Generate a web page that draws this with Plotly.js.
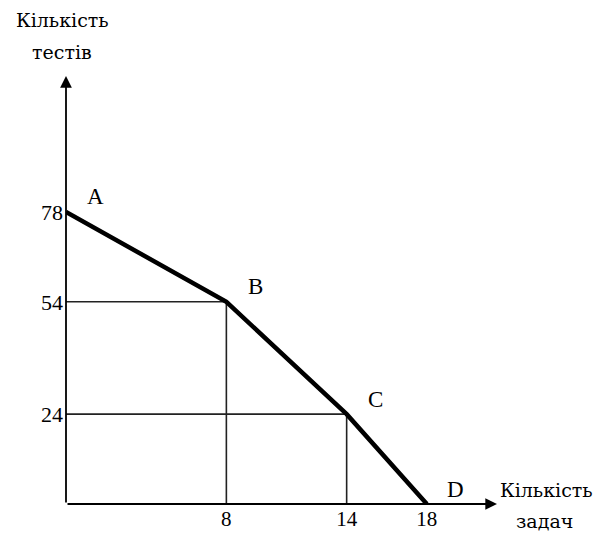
<!DOCTYPE html>
<html>
<head>
<meta charset="utf-8">
<script src="https://cdn.plot.ly/plotly-3.0.1.min.js"></script>
<style>html,body{margin:0;padding:0;background:#fff;}#chart{width:593px;height:533px;}</style>
</head>
<body>
<div id="chart"></div>
<script>
// Data
const pointLabels = ["A", "B", "C", "D"];
const tasks = [0, 8, 14, 18];       // Кількість задач
const tests = [78, 54, 24, 0];      // Кількість тестів
const xTickVals = [8, 14, 18];
const yTickVals = [24, 54, 78];
const xTitle = ["Кількість", "задач"];
const yTitle = ["Кількість", "тестів"];

const FONT = "Liberation Serif, serif";
const TFONT = "DejaVu Serif, serif";
const FS = 23;
const xMax = 21.5, yMax = 114.3;

const traces = [];
// guide lines from B and C to the axes
[1, 2].forEach(i => {
  traces.push({
    x: [0, tasks[i], tasks[i]], y: [tests[i], tests[i], 0],
    mode: "lines", line: {color: "#222", width: 1.6},
    hoverinfo: "skip", showlegend: false, cliponaxis: false
  });
});
// main broken line
traces.push({
  x: tasks, y: tests, mode: "lines",
  line: {color: "#000", width: 4.5},
  showlegend: false, cliponaxis: false
});

const annotations = [];
// axes with arrows
annotations.push({x: xMax, y: 0, ax: 0, ay: 0, xref: "x", yref: "y", axref: "x", ayref: "y",
  showarrow: true, arrowhead: 2, arrowsize: 1.3, arrowwidth: 1.8, arrowcolor: "#000", text: ""});
annotations.push({x: 0, y: yMax, ax: 0, ay: 0, xref: "x", yref: "y", axref: "x", ayref: "y",
  showarrow: true, arrowhead: 2, arrowsize: 1.3, arrowwidth: 1.8, arrowcolor: "#000", text: ""});
// point labels
pointLabels.forEach((t, i) => {
  annotations.push({x: tasks[i], y: tests[i], xref: "x", yref: "y", text: t, showarrow: false,
    xanchor: "center", yanchor: "middle",
    xshift: 29, yshift: 15, font: {family: FONT, size: FS, color: "#000"}});
});
// axis titles
function title(txt, x, y) {
  annotations.push({x: x, y: y, xref: "paper", yref: "paper", text: txt, showarrow: false,
    xanchor: "center", yanchor: "middle", font: {family: TFONT, size: 19, color: "#000"}});
}
title(xTitle[0], 1.116, 0.033);
title(xTitle[1], 1.111, -0.04);
title(yTitle[0], -0.009, 1.131);
title(yTitle[1], -0.009, 1.056);

const layout = {
  width: 593, height: 533,
  margin: {l: 66, r: 96, t: 76, b: 29, pad: 0},
  paper_bgcolor: "#fff", plot_bgcolor: "#fff",
  showlegend: false,
  xaxis: {range: [0, xMax], tickvals: xTickVals, ticktext: xTickVals.map(String),
    showgrid: false, zeroline: false, showline: false, ticks: "", ticklabelstandoff: 0,
    tickfont: {family: FONT, size: 21, color: "#000"}, fixedrange: true},
  yaxis: {range: [0, yMax], tickvals: yTickVals, ticktext: yTickVals.map(String),
    showgrid: false, zeroline: false, showline: false, ticks: "", ticklabelstandoff: 2,
    tickfont: {family: FONT, size: 22, color: "#000"}, fixedrange: true},
  annotations: annotations
};

Plotly.newPlot("chart", traces, layout, {displayModeBar: false, staticPlot: true});
</script>
</body>
</html>
